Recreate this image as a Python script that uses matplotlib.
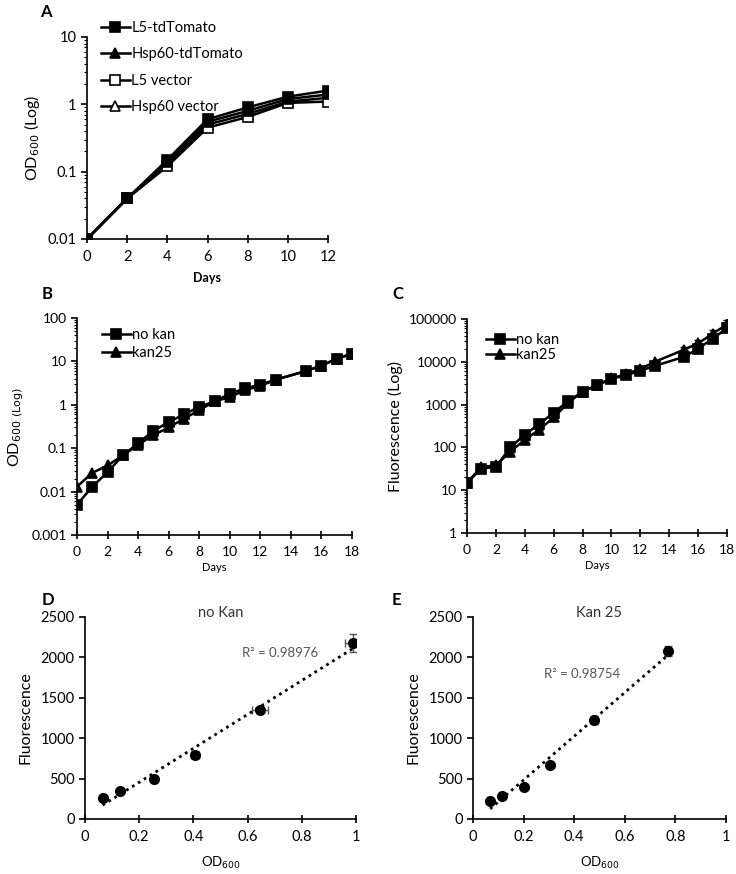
import numpy as np
import matplotlib
matplotlib.use("Agg")
import matplotlib.pyplot as plt
from matplotlib.ticker import FuncFormatter, LogLocator, MultipleLocator, NullFormatter

plt.rcParams['font.family'] = ['Lato', 'DejaVu Sans']

# ---- data ----
days_a = [0, 2, 4, 6, 8, 10, 12]
l5_tdtomato = [0.01, 0.04, 0.15, 0.60, 0.90, 1.30, 1.60]
hsp60_tdtomato = [0.01, 0.04, 0.14, 0.55, 0.80, 1.20, 1.40]
l5_vector = [0.01, 0.04, 0.12, 0.45, 0.65, 1.05, 1.10]
hsp60_vector = [0.01, 0.04, 0.13, 0.50, 0.72, 1.10, 1.25]

days_bc = [0, 1, 2, 3, 4, 5, 6, 7, 8, 9, 10, 11, 12, 13, 15, 16, 17, 18]
od_nokan = [0.005, 0.013, 0.028, 0.068, 0.13, 0.25, 0.40, 0.60, 0.90, 1.2, 1.8, 2.4, 2.9, 3.8, 6.0, 8.0, 11.5, 15.0]
od_kan25 = [0.013, 0.027, 0.040, 0.068, 0.12, 0.20, 0.30, 0.48, 0.75, 1.2, 1.5, 2.2, 2.7, 3.8, 6.0, 8.0, 11.5, 15.0]

fl_nokan = [15, 32, 35, 100, 200, 350, 650, 1200, 2000, 2800, 4000, 4800, 6200, 8000, 13000, 20000, 35000, 60000]
fl_kan25 = [15, 35, 38, 80, 150, 260, 500, 1100, 2000, 2900, 4100, 5200, 6800, 10000, 19000, 27000, 45000, 75000]
fl_kan25_err = [0, 0, 0, 0, 0, 0, 0, 0, 0, 0, 0, 0, 0, 0, 3000, 6000, 10000, 20000]

od_d = [0.065, 0.13, 0.255, 0.405, 0.645, 0.99]
fl_d = [260, 350, 500, 790, 1355, 2180]
od_d_err = [0.0, 0.0, 0.0, 0.015, 0.03, 0.03]
fl_d_err = [0, 0, 0, 0, 0, 110]

od_e = [0.068, 0.113, 0.20, 0.305, 0.48, 0.77]
fl_e = [225, 290, 400, 665, 1230, 2080]
od_e_err = [0.0, 0.0, 0.0, 0.0, 0.01, 0.01]
fl_e_err = [0, 0, 0, 0, 50, 60]

W, H = 736, 874
fig = plt.figure(figsize=(W / 100, H / 100), dpi=100)


def px_axes(left, right, top, bottom):
    return fig.add_axes([left / W, 1 - bottom / H, (right - left) / W, (bottom - top) / H])


def style_axes(ax, fs=10):
    for s in ['top', 'right']:
        ax.spines[s].set_visible(False)
    for s in ['left', 'bottom']:
        ax.spines[s].set_linewidth(1.2)
    ax.tick_params(axis='y', which='major', direction='out', length=4, width=1.2, labelsize=fs)
    ax.tick_params(axis='y', which='minor', direction='out', length=2, width=0.8)
    ax.tick_params(axis='x', which='major', direction='inout', length=6, width=1.2, labelsize=fs, pad=5)


def log_axes(ax):
    ax.set_yscale('log')
    ax.yaxis.set_major_locator(LogLocator(base=10))
    ax.yaxis.set_minor_locator(LogLocator(base=10, subs=np.arange(2, 10)))
    ax.yaxis.set_minor_formatter(NullFormatter())
    ax.yaxis.set_major_formatter(FuncFormatter(lambda v, p: '{:g}'.format(v)))


line_kw = dict(color='black', lw=1.8, markersize=6.5, markeredgewidth=1.2)

# ---- A ----
axA = px_axes(87, 328, 37, 239)
axA.plot(days_a, l5_tdtomato, marker='s', label='L5-tdTomato', zorder=5, **line_kw)
axA.plot(days_a, hsp60_tdtomato, marker='^', label='Hsp60-tdTomato', zorder=4, **line_kw)
axA.plot(days_a, l5_vector, marker='s', mfc='white', label='L5 vector', zorder=3, **line_kw)
axA.plot(days_a, hsp60_vector, marker='^', mfc='white', label='Hsp60 vector', zorder=2, **line_kw)
log_axes(axA)
axA.set_ylim(0.01, 10)
axA.set_xlim(0, 12)
axA.set_xticks(range(0, 13, 2))
style_axes(axA, 10.5)
axA.set_xlabel('Days', fontsize=9, fontweight='bold', labelpad=6)
axA.set_ylabel('OD$_{600}$ (Log)', fontsize=11.5, labelpad=4)
axA.legend(loc='upper left', bbox_to_anchor=(95 / W, 1 - 15 / H), bbox_transform=fig.transFigure,
           frameon=False, fontsize=10.5, handlelength=2.0, handletextpad=0.1, labelspacing=0.85,
           borderaxespad=0)

# ---- B ----
axB = px_axes(77, 352, 318, 535)
axB.plot(days_bc, od_kan25, marker='^', label='kan25', **line_kw)
axB.plot(days_bc, od_nokan, marker='s', label='no kan', **line_kw)
log_axes(axB)
axB.set_ylim(0.001, 100)
axB.set_xlim(0, 18)
axB.set_xticks(range(0, 19, 2))
style_axes(axB, 10)
axB.set_xlabel('Days', fontsize=8, labelpad=3)
axB.set_ylabel(r'OD$_{600\ \mathrm{(Log)}}$', fontsize=11.5, labelpad=4)
hB, lB = axB.get_legend_handles_labels()
axB.legend(hB[::-1], lB[::-1], loc='upper left', bbox_to_anchor=(96 / W, 1 - 322 / H),
           bbox_transform=fig.transFigure, frameon=False, fontsize=10.5, handlelength=2.0,
           handletextpad=0.1, labelspacing=0.3, borderaxespad=0)

# ---- C ----
axC = px_axes(467, 727, 319, 533)
axC.errorbar(days_bc, fl_kan25, yerr=[np.zeros(len(fl_kan25_err)), fl_kan25_err], fmt='none',
             ecolor='black', capsize=3, elinewidth=1)
lk, = axC.plot(days_bc, fl_kan25, marker='^', label='kan25', **line_kw)
ln, = axC.plot(days_bc, fl_nokan, marker='s', label='no kan', **line_kw)
log_axes(axC)
axC.set_ylim(1, 100000)
axC.set_xlim(0, 18)
axC.set_xticks(range(0, 19, 2))
style_axes(axC, 10)
axC.set_xlabel('Days', fontsize=8, labelpad=3)
axC.set_ylabel('Fluorescence (Log)', fontsize=11.5, labelpad=4)
axC.legend([ln, lk], ['no kan', 'kan25'], loc='upper left', bbox_to_anchor=(480 / W, 1 - 327 / H),
           bbox_transform=fig.transFigure, frameon=False, fontsize=10.5, handlelength=2.0,
           handletextpad=0.1, labelspacing=0.1, borderaxespad=0)


# ---- D and E ----
def scatter_panel(ax, x, y, xerr, yerr, title, r2, r2_pos):
    ax.errorbar(x, y, xerr=xerr, yerr=yerr, fmt='o', color='black', ms=7, elinewidth=1,
                ecolor='#555555', capsize=3)
    k, b = np.polyfit(x, y, 1)
    xs = np.array([min(x), max(x)])
    ax.plot(xs, k * xs + b, ls=(0, (1, 1.5)), color='black', lw=2)
    ax.set_xlim(0, 1)
    ax.set_ylim(0, 2500)
    ax.xaxis.set_major_locator(MultipleLocator(0.2))
    ax.yaxis.set_major_locator(MultipleLocator(500))
    ax.xaxis.set_major_formatter(FuncFormatter(lambda v, p: '{:g}'.format(round(v, 2))))
    style_axes(ax, 10.5)
    ax.set_xlabel('OD$_{600}$', fontsize=9.5, labelpad=8)
    ax.set_ylabel('Fluorescence', fontsize=11.5, labelpad=6)
    ax.set_title(title, fontsize=10.5, color='#333333', pad=0, y=1.0)
    ax.text(r2_pos[0], r2_pos[1], 'R\u00b2 = ' + r2, fontsize=9.5, color='#555555', va='center')


axD = px_axes(85, 356, 617, 819)
scatter_panel(axD, od_d, fl_d, od_d_err, fl_d_err, 'no Kan', '0.98976', (0.58, 2060))
axE = px_axes(473, 726, 617, 819)
scatter_panel(axE, od_e, fl_e, od_e_err, fl_e_err, 'Kan 25', '0.98754', (0.28, 1800))

# ---- panel letters ----
for letter, (x, y) in {'A': (40, 12), 'B': (42, 294), 'C': (392, 294),
                       'D': (42, 600), 'E': (392, 600)}.items():
    fig.text(x / W, 1 - y / H, letter, fontsize=12, fontweight='bold', va='center', ha='left')

fig.savefig('out.png', dpi=100)
